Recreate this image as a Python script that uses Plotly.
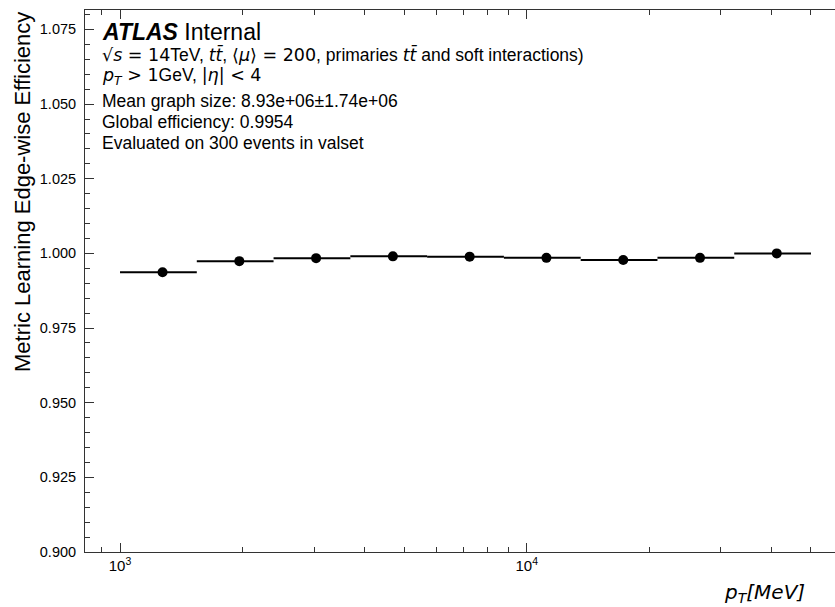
import plotly.graph_objects as go

# ---- data ----
bin_edges = [1000, 1544.5, 2385.4, 3684.2, 5690.2, 8788.5, 13574, 20965, 32380, 50000]
efficiency = [0.9937, 0.9974, 0.9984, 0.9990, 0.9989, 0.9985, 0.9978, 0.9985, 1.0000]
x_major_ticks = [1000, 10000]
x_major_labels = ["10<sup>3</sup>", "10<sup>4</sup>"]
x_minor_ticks = [900, 2000, 3000, 4000, 5000, 6000, 7000, 8000, 9000,
                 20000, 30000, 40000, 50000]

M = '<span style="font-family:DejaVu Sans">'
info_lines = [
    M + "√<i>s</i> = 14</span>TeV, " + M + "<i>tt̄</i></span>, " + M + "⟨<i>μ</i>⟩ = 200</span>, primaries "
    + M + "<i>tt̄</i></span> and soft interactions)",
    M + "<i>p</i><sub><i>T</i></sub> > 1</span>GeV, " + M + "|<i>η</i>| < 4</span>",
    "Mean graph size: 8.93e+06±1.74e+06",
    "Global efficiency: 0.9954",
    "Evaluated on 300 events in valset",
]

centers = [(a + b) / 2 for a, b in zip(bin_edges[:-1], bin_edges[1:])]
err_plus = [b - c for b, c in zip(bin_edges[1:], centers)]
err_minus = [c - a for a, c in zip(bin_edges[:-1], centers)]

FONT = "Liberation Sans, Arial, Helvetica, sans-serif"

fig = go.Figure()
fig.add_trace(go.Scatter(
    x=centers, y=efficiency, mode="markers",
    marker=dict(color="black", size=10),
    error_x=dict(type="data", symmetric=False, array=err_plus, arrayminus=err_minus,
                 color="black", thickness=2, width=0),
    showlegend=False,
))

L, T, B = 85, 10, 55
W, H = 835, 607
pw, ph = W - L, H - T - B

def px(xp):
    return (xp - L) / pw

def py(yp):
    return (H - B - yp) / ph

annotations = [
    dict(x=px(100), y=py(32), xref="paper", yref="paper", xanchor="left", yanchor="middle",
         text="<b><i>ATLAS</i></b> Internal", showarrow=False,
         font=dict(family=FONT, size=23, color="black")),
]
line_y = [54, 76, 101, 122, 143]
for t, yy in zip(info_lines, line_y):
    annotations.append(dict(x=px(100), y=py(yy), xref="paper", yref="paper",
                            xanchor="left", yanchor="middle", text=t, showarrow=False,
                            font=dict(family=FONT, size=17.5, color="black")))
annotations.append(dict(x=px(807), y=py(593), xref="paper", yref="paper",
                        xanchor="right", yanchor="middle",
                        text="<i>p</i><sub><i>T</i></sub><i>[MeV]</i>", showarrow=False,
                        font=dict(family="DejaVu Sans", size=20, color="black")))
annotations.append(dict(x=px(22), y=1.0, xref="paper", yref="paper",
                        xanchor="center", yanchor="top", textangle=-90,
                        text="Metric Learning Edge-wise Efficiency", showarrow=False,
                        font=dict(family=FONT, size=22, color="black")))

axis_col = "#333333"
fig.update_layout(
    width=W, height=H,
    margin=dict(l=L, r=0, t=T, b=B),
    paper_bgcolor="white", plot_bgcolor="white",
    font=dict(family=FONT, color="black"),
    annotations=annotations,
    xaxis=dict(
        type="log", range=[2.9139, 4.758],
        showgrid=False, zeroline=False,
        showline=True, linecolor=axis_col, linewidth=1, mirror="ticks",
        ticks="inside", ticklen=9, tickwidth=1, tickcolor=axis_col,
        tickvals=x_major_ticks, ticktext=x_major_labels,
        tickfont=dict(family=FONT, size=15, color="black"),
        minor=dict(tickvals=x_minor_ticks, ticks="inside", ticklen=5, tickcolor=axis_col, showgrid=False),
    ),
    yaxis=dict(
        range=[0.9, 1.0815],
        showgrid=False, zeroline=False,
        showline=True, linecolor=axis_col, linewidth=1, mirror=False,
        ticks="inside", ticklen=9, tickwidth=1, tickcolor=axis_col,
        tick0=0.9, dtick=0.025, tickformat=".3f",
        tickfont=dict(family=FONT, size=14.5, color="black"),
        ticklabelstandoff=5,
        minor=dict(dtick=0.005, tick0=0.9, ticks="inside", ticklen=5, tickcolor=axis_col, showgrid=False),
    ),
)

fig.write_html("out.html", config={"displayModeBar": False},
               post_script="document.body.style.margin='0px';")
